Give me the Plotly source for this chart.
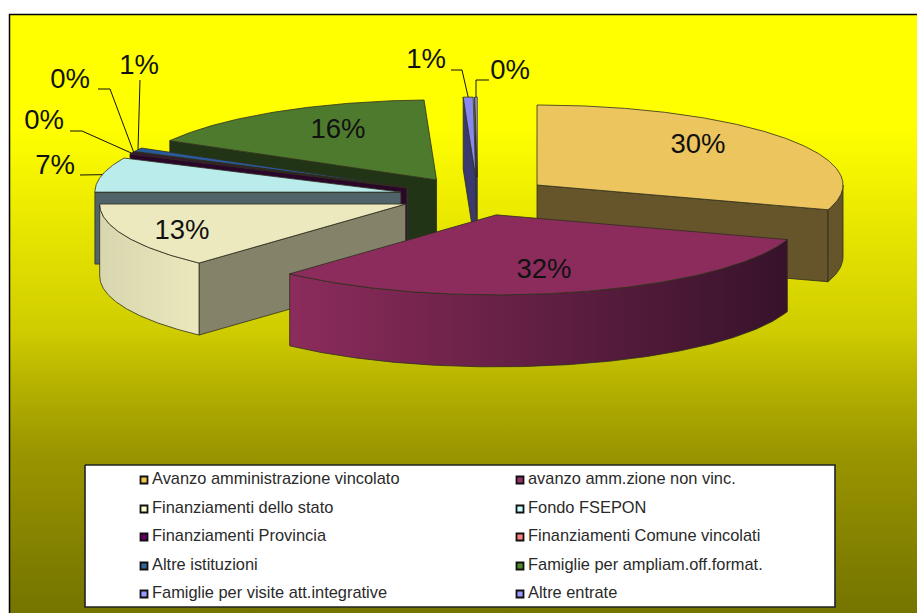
import numpy as np
import plotly.graph_objects as go

# ---- data ----
categories = ["Avanzo amministrazione vincolato", "avanzo amm.zione non vinc.",
              "Finanziamenti dello stato", "Fondo FSEPON",
              "Finanziamenti Provincia", "Finanziamenti Comune vincolati",
              "Altre istituzioni", "Famiglie per ampliam.off.format.",
              "Famiglie per visite att.integrative", "Altre entrate"]
values = [30.0, 31.8, 13.2, 7.0, 0.35, 0.05, 0.75, 16.2, 0.52, 0.13]

# ---- styles ----
face_colors = ["#ecc55f", "#8c2c5c", "#ece9be", "#bbecec", "#3c0a40",
               "#ff8080", "#2a5a9c", "#4e7a2e", "#8888ee", "#9999ff"]
wall_colors = ["#66542a", "#3a1226", "#85826a", "#4f6368", "#2a0628",
               "#803f3f", "#1a3560", "#213516", "#3a3a70", "#3a3a70"]
arc_gradients = {0: ("#66542a", "#66542a"), 1: ("#8c2c5c", "#37122a"),
                 2: ("#d8d6ae", "#ebe8bd"), 3: ("#4f6368", "#4f6368")}
legend_colors = ["#f0c850", "#993366", "#ffffcc", "#ccffff", "#660066",
                 "#ff8080", "#336699", "#4f8a2e", "#9999ff", "#9999ff"]
paint_order = [9, 8, 7, 6, 5, 4, 3, 0, 2, 1]

CX, CY, RX, RY, DEPTH, EXPLODE = 477.6, 196.3, 306, 80, 72, 0.24
LEFT_STRETCH = 1.07
EDGE = dict(color="#2e2e1e", width=0.8)
TXT = "Liberation Sans"

fig = go.Figure()


def poly(xs, ys, fill, gradient=None, line=EDGE):
    t = dict(x=list(xs) + [xs[0]], y=list(ys) + [ys[0]], mode="lines", fill="toself",
             line=line, hoverinfo="skip", showlegend=False)
    if gradient is None:
        t["fillcolor"] = fill
    else:
        t["fillgradient"] = gradient
    fig.add_trace(go.Scatter(**t))


# background frame
poly([9.5, 917, 917, 9.5], [14.5, 14.5, 613, 613], None,
     gradient=dict(type="vertical", start=14, stop=613,
                   colorscale=[[0, "#ffff00"], [0.19, "#ffff00"], [0.53, "#cfcc00"],
                               [0.61, "#b8b400"], [0.73, "#9a9600"], [0.9, "#828000"],
                               [1, "#747400"]]),
     line=dict(color="rgba(0,0,0,0)", width=0))
fig.add_trace(go.Scatter(x=[9.5, 9.5, 917], y=[613, 14.5, 14.5], mode="lines",
                         line=dict(color="#000000", width=1.5), hoverinfo="skip", showlegend=False))

# slices
cum = np.concatenate([[0], np.cumsum(values)]) / np.sum(values) * 360


def pt(i, th):
    mid = np.radians((cum[i] + cum[i + 1]) / 2)
    dx = RX * EXPLODE * np.sin(mid)
    if dx < 0:
        dx *= LEFT_STRETCH
    ax = CX + dx
    ay = CY - RY * EXPLODE * np.cos(mid)
    t = np.radians(th)
    return ax + RX * np.sin(t), ay - RY * np.cos(t), ax, ay


for i in paint_order:
    a, b = cum[i], cum[i + 1]
    ths = np.linspace(a, b, max(3, int((b - a) * 2)))
    _, _, ax, ay = pt(i, a)
    sa = pt(i, a)
    sb = pt(i, b)
    # radial walls facing the viewer
    if 180 < a < 360:
        poly([ax, sa[0], sa[0], ax], [ay, sa[1], sa[1] + DEPTH, ay + DEPTH], wall_colors[i])
    if 0 < b < 180:
        poly([ax, sb[0], sb[0], ax], [ay, sb[1], sb[1] + DEPTH, ay + DEPTH], wall_colors[i])
    # outer wall
    lo, hi = max(a, 90), min(b, 270)
    if hi > lo:
        arc = np.linspace(lo, hi, max(3, int(hi - lo) * 2))
        px = [pt(i, t)[0] for t in arc]
        py = [pt(i, t)[1] for t in arc]
        xs = px + px[::-1]
        ys = py + [v + DEPTH for v in py[::-1]]
        c0, c1 = arc_gradients.get(i, (wall_colors[i], wall_colors[i]))
        if c0 == c1:
            poly(xs, ys, c0)
        else:
            poly(xs, ys, None, gradient=dict(type="horizontal", colorscale=[[0, c0], [1, c1]]))
    # top face
    px = [ax] + [pt(i, t)[0] for t in ths]
    py = [ay] + [pt(i, t)[1] for t in ths]
    poly(px, py, face_colors[i])

# percent labels
label_pos = [(698, 146), (544, 271), (182, 232), (55, 167), (44, 122),
             (70, 81), (139, 67), (338, 131), (426, 61), (510, 72)]
leader_via = {3: [(80, 175)], 4: [(70, 131), (82, 131)], 5: [(98, 89), (110, 89)],
              6: [(140, 80)], 8: [(451, 70), (462, 70)], 9: [(489, 80), (476, 80)]}
for i, vias in leader_via.items():
    mid = (cum[i] + cum[i + 1]) / 2
    ex, ey, _, _ = pt(i, mid)
    fig.add_trace(go.Scatter(x=[p[0] for p in vias] + [ex], y=[p[1] for p in vias] + [ey],
                             mode="lines", line=dict(color="#111111", width=1),
                             hoverinfo="skip", showlegend=False))
fig.add_trace(go.Scatter(x=[p[0] for p in label_pos], y=[p[1] for p in label_pos], mode="text",
                         text=[f"{round(v)}%" for v in values], textposition="middle center",
                         textfont=dict(family=TXT, size=27.5, color="#111111"),
                         hoverinfo="skip", showlegend=False))

# legend box
poly([85, 835, 835, 85], [465, 465, 607, 607], "#ffffff", line=dict(color="#222222", width=1.6))
col_x = [144, 520]
row_y = [480, 509, 537, 566, 594]
leg_x = [col_x[k % 2] for k in range(len(categories))]
leg_y = [row_y[k // 2] for k in range(len(categories))]
fig.add_trace(go.Scatter(x=leg_x, y=leg_y, mode="markers", hoverinfo="skip", showlegend=False,
                         marker=dict(symbol="square", size=7, color=legend_colors,
                                     line=dict(color="#111111", width=1.8))))
fig.add_trace(go.Scatter(x=[v + 8 for v in leg_x], y=[v for v in leg_y], mode="text", text=categories,
                         textposition="middle right", hoverinfo="skip", showlegend=False,
                         textfont=dict(family=TXT, size=16.4, color="#2a2a2a")))

fig.update_layout(width=917, height=613, margin=dict(l=0, r=0, t=0, b=0),
                  paper_bgcolor="#ffffff", plot_bgcolor="#ffffff", showlegend=False,
                  xaxis=dict(range=[0, 917], visible=False, fixedrange=True),
                  yaxis=dict(range=[613, 0], visible=False, fixedrange=True))
fig.write_html("out.html", config={"displayModeBar": False},
               post_script="document.body.style.margin='0';document.body.style.overflow='hidden';")
